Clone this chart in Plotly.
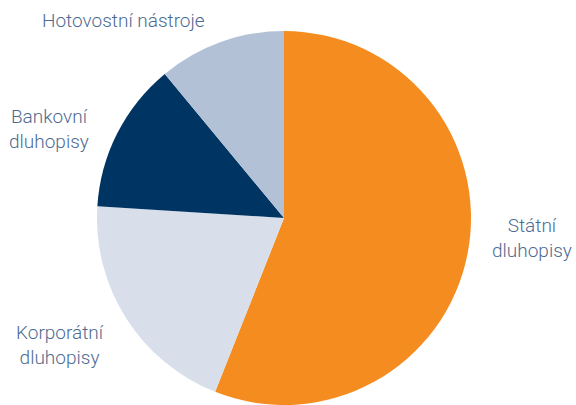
import plotly.graph_objects as go

# Portfolio composition by instrument type (share, %)
labels = ["Státní dluhopisy", "Korporátní dluhopisy", "Bankovní dluhopisy", "Hotovostní nástroje"]
values = [56, 20, 13, 11]
colors = ["#F58C1F", "#D8DFEB", "#003462", "#B3C1D7"]

# Label text shown next to each slice
label_text = ["Státní<br>dluhopisy", "Korporátní<br>dluhopisy", "Bankovní<br>dluhopisy", "Hotovostní nástroje"]

W, H = 576, 405
TOP = 31


def px_to_paper_y(py):
    # paper y covers the area below the top margin
    return (H - py) / (H - TOP)


fig = go.Figure(
    go.Pie(
        labels=labels,
        values=values,
        sort=False,
        direction="clockwise",
        rotation=0,
        marker=dict(colors=colors, line=dict(width=0)),
        textinfo="none",
        hoverinfo="label+percent",
        domain=dict(x=[0, 568 / W], y=[0, 1]),
        showlegend=False,
    )
)

font = dict(family="Roboto, 'Liberation Sans', sans-serif", size=19, color="#4d6b91", weight=300)

# Label anchor positions (pixel centres of each text block)
label_pos = [
    (532, 238),
    (60, 345),
    (49, 129),
    (123, 21),
]

for txt, (x, y) in zip(label_text, label_pos):
    fig.add_annotation(
        x=x / W, y=px_to_paper_y(y), xref="paper", yref="paper",
        text=txt, showarrow=False, font=font, align="center",
        xanchor="center", yanchor="middle",
    )

fig.update_layout(
    width=W,
    height=H,
    margin=dict(l=0, r=0, t=TOP, b=0),
    paper_bgcolor="white",
    plot_bgcolor="white",
)

fig.write_html("out.html")
